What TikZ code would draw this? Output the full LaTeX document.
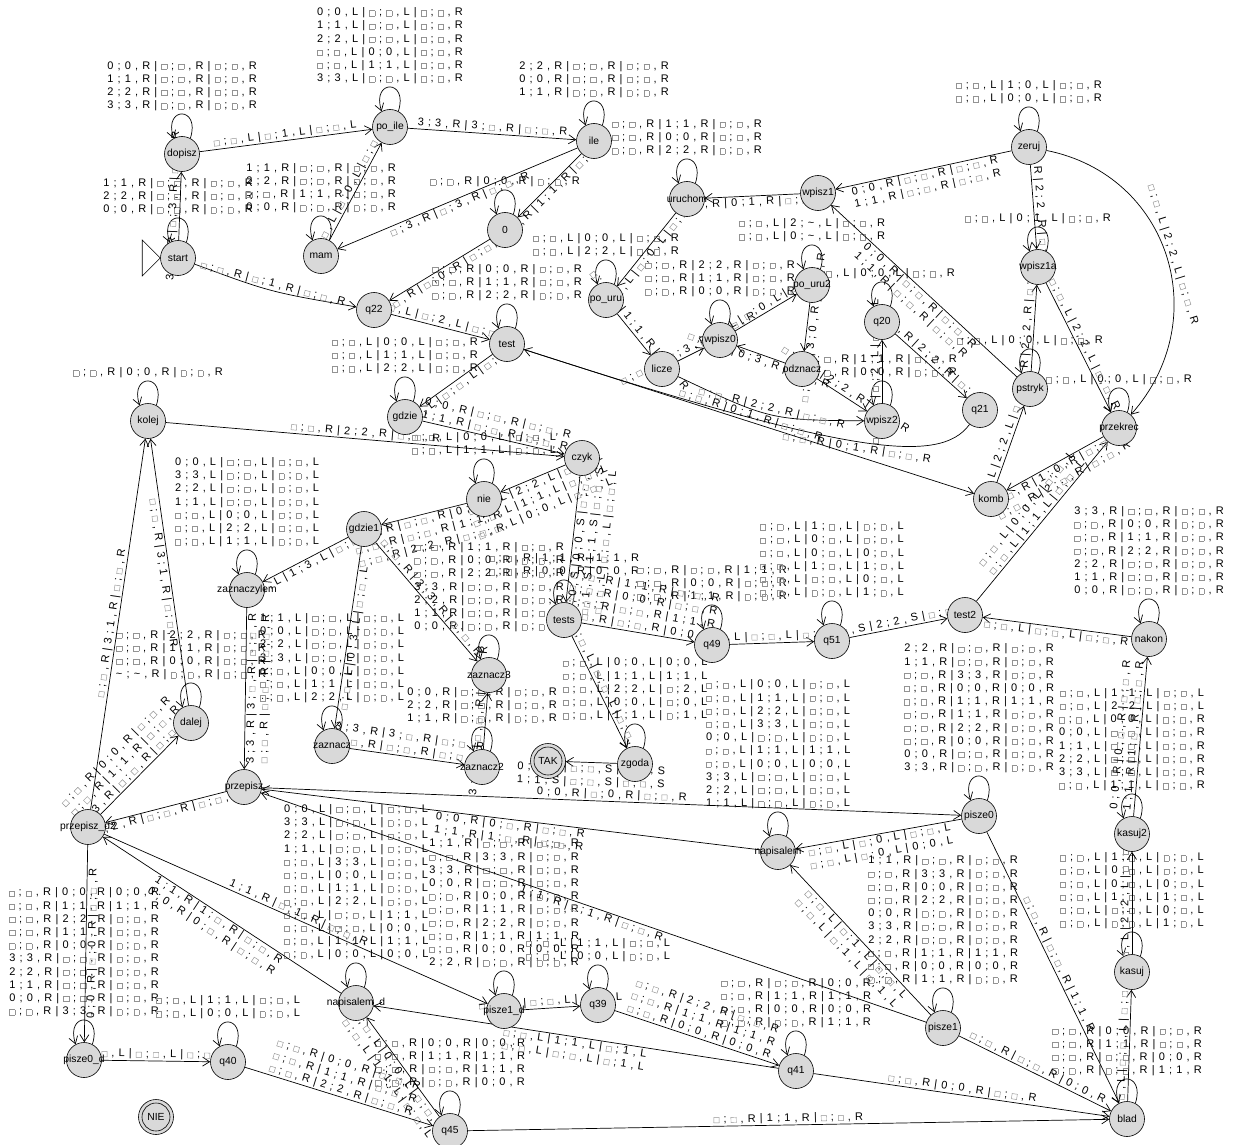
\documentclass[tikz,border=0pt]{standalone}
\usepackage{fontspec}
\setmainfont[WordSpace=1.36]{Liberation Sans}
\usepackage{newunicodechar}
\usetikzlibrary{arrows.meta,calc}
\pgfdeclarelayer{bg}
\pgfsetlayers{bg,main}
\newcommand\bx{\begingroup\color{gray!85}\fboxsep=0pt\fboxrule=0.45pt\fbox{\rule{0pt}{4.8pt}\rule{4.8pt}{0pt}}\endgroup}
\newunicodechar{□}{\bx}
\newcommand\T[9]{#1 ; #2 , #3 | #4 ; #5 , #6 | #7 ; #8 , #9}
\newcommand\tl{\textasciitilde}
\newcommand\nm[1]{\makebox[0pt][c]{#1}}
\newcommand\lblfont{\fontsize{11}{13.2}\selectfont}
\newcommand\selfloop[2]{%
 \draw[tr] (#1.62) .. controls +(72:34pt) and +(108:34pt) .. (#1.118);
 \node[lbl,anchor=south] at ([yshift=24pt]#1.north) {#2};}
\begin{document}
\begin{tikzpicture}[x=1pt,y=-1pt,
  stt/.style={circle,draw=black,line width=0.6pt,fill=gray!30,minimum size=35pt,inner sep=0pt,font=\fontsize{10.3}{12}\selectfont},
  tr/.style={draw=black,line width=0.7pt,-{Straight Barb[length=7pt,width=9pt]}},
  lbl/.style={font=\lblfont,inner sep=1pt,align=center,text=black},
  la/.style={lbl,pos=0.5,sloped,above},
  lb/.style={lbl,pos=0.5,sloped,below}]
\useasboundingbox (0,0) rectangle (1235,1145);
% states
\node[stt] (start) at (178,258) {\nm{start}};
\node[stt] (dopisz) at (182,154) {\nm{dopisz}};
\node[stt] (poile) at (390,127) {\nm{po\_ile}};
\node[stt] (ile) at (594,141) {\nm{ile}};
\node[stt] (mam) at (321,256) {\nm{mam}};
\node[stt] (n0) at (505,230) {\nm{0}};
\node[stt] (uruchom) at (687,199) {\nm{uruchom}};
\node[stt] (wpisz1) at (818,193) {\nm{wpisz1}};
\node[stt] (zeruj) at (1029,147) {\nm{zeruj}};
\node[stt] (wpisz1a) at (1038,267) {\nm{wpisz1a}};
\node[stt] (pouru) at (606,300) {\nm{po\_uru}};
\node[stt] (pouru2) at (812,285) {\nm{po\_uru2}};
\node[stt] (q22) at (374,310) {\nm{q22}};
\node[stt] (test) at (507,344) {\nm{test}};
\node[stt] (licze) at (662,369) {\nm{licze}};
\node[stt] (wpisz0) at (720,340) {\nm{wpisz0}};
\node[stt] (odznacz) at (802,369) {\nm{odznacz}};
\node[stt] (q20) at (882,322) {\nm{q20}};
\node[stt] (wpisz2) at (882,421) {\nm{wpisz2}};
\node[stt] (q21) at (980,410) {\nm{q21}};
\node[stt] (pstryk) at (1030,389) {\nm{pstryk}};
\node[stt] (przekrec) at (1119,428) {\nm{przekrec}};
\node[stt] (kolej) at (148,421) {\nm{kolej}};
\node[stt] (gdzie) at (405,417) {\nm{gdzie}};
\node[stt] (czyk) at (582,458) {\nm{czyk}};
\node[stt] (nie) at (484,499) {\nm{nie}};
\node[stt] (gdzie1) at (364,529) {\nm{gdzie1}};
\node[stt] (komb) at (991,499) {\nm{komb}};
\node[stt] (zaznaczylem) at (247,590) {\nm{zaznaczylem}};
\node[stt] (tests) at (564,620) {\nm{tests}};
\node[stt] (q49) at (712,645) {\nm{q49}};
\node[stt] (q51) at (832,641) {\nm{q51}};
\node[stt] (test2) at (965,615) {\nm{test2}};
\node[stt] (nakon) at (1149,639) {\nm{nakon}};
\node[stt] (zaznacz3) at (489,675) {\nm{zaznacz3}};
\node[stt] (dalej) at (191,723) {\nm{dalej}};
\node[stt] (zaznacz) at (332,746) {\nm{zaznacz}};
\node[stt] (zaznacz2) at (482,767) {\nm{zaznacz2}};
\node[stt] (TAK) at (548,761) {\nm{TAK}};
\node[stt] (zgoda) at (635,764) {\nm{zgoda}};
\node[stt] (przepisz) at (244,787) {\nm{przepisz}};
\node[stt] (pd2) at (88,827) {\nm{przepisz\_d2}};
\node[stt] (pisze0) at (979,816) {\nm{pisze0}};
\node[stt] (napisalem) at (778,852) {\nm{napisalem}};
\node[stt] (kasuj2) at (1132,834) {\nm{kasuj2}};
\node[stt] (kasuj) at (1132,972) {\nm{kasuj}};
\node[stt] (nd) at (356,1003) {\nm{napisalem\_d}};
\node[stt] (p1d) at (504,1011) {\nm{pisze1\_d}};
\node[stt] (q39) at (598,1005) {\nm{q39}};
\node[stt] (pisze1) at (943,1028) {\nm{pisze1}};
\node[stt] (q41) at (796,1071) {\nm{q41}};
\node[stt] (p0d) at (84,1060) {\nm{pisze0\_d}};
\node[stt] (q40) at (228,1062) {\nm{q40}};
\node[stt] (q45) at (450,1131) {\nm{q45}};
\node[stt] (blad) at (1127,1119) {\nm{blad}};
\node[stt] (NIE) at (156,1117) {\nm{NIE}};
\draw[line width=0.6pt] (TAK.center) circle[radius=14pt];
\draw[line width=0.6pt] (NIE.center) circle[radius=14pt];
\draw[line width=0.6pt,fill=white] (start.west) -- ++(-18pt,18pt) -- ++(0,-36pt) -- cycle;
\begin{pgfonlayer}{bg}
\fill[white] (0,0) rectangle (1235,1145);
% self loops
\selfloop{start}{\T11R□□R□□R\\\T22R□□R□□R\\\T00R□□R□□R}
\selfloop{dopisz}{\T00R□□R□□R\\\T11R□□R□□R\\\T22R□□R□□R\\\T33R□□R□□R}
\selfloop{poile}{\T00L□□L□□R\\\T11L□□L□□R\\\T22L□□L□□R\\\T□□L00L□□R\\\T□□L11L□□R\\\T33L□□L□□R}
\selfloop{ile}{\T22R□□R□□R\\\T00R□□R□□R\\\T11R□□R□□R}
\selfloop{mam}{\T11R□□R□□R\\\T22R□□R□□R\\\T□□R11R□□R\\\T00R□□R□□R}
\selfloop{n0}{\T□□R00R□□R}
\selfloop{uruchom}{\T□□R11R□□R\\\T□□R00R□□R\\\T□□R22R□□R}
\selfloop{zeruj}{\T□□L10L□□R\\\T□□L00L□□R}
\selfloop{wpisz1a}{\T□□L01L□□R}
\selfloop{pouru}{\T□□L00L□□R\\\T□□L22L□□R}
\selfloop{pouru2}{\T□□L2\tl L□□R\\\T□□L0\tl L□□R}
\selfloop{test}{\T□□R00R□□R\\\T□□R11R□□R\\\T□□R22R□□R}
\selfloop{wpisz0}{\T□□R22R□□R\\\T□□R11R□□R\\\T□□R00R□□R}
\selfloop{q20}{\T□□L00L□□R}
\selfloop{wpisz2}{\T□□R11R□□R\\\T□□R00R□□R}
\selfloop{pstryk}{\T□□L00L□□R}
\selfloop{przekrec}{\T□□L00L□□R}
\selfloop{kolej}{\T□□R00R□□R}
\selfloop{gdzie}{\T□□L00L□□R\\\T□□L11L□□R\\\T□□L22L□□R}
\selfloop{nie}{\T□□L00L□□L\\\T□□L11L□□L}
\selfloop{zaznaczylem}{\T00L□□L□□L\\\T33L□□L□□L\\\T22L□□L□□L\\\T11L□□L□□L\\\T□□L00L□□L\\\T□□L22L□□L\\\T□□L11L□□L}
\selfloop{tests}{\T□□R11R11R\\\T□□R00R00R}
\selfloop{q49}{\T□□R□□R11R\\\T□□R00R□□R\\\T□□R11R□□R}
\selfloop{q51}{\T□□L1□L□□L\\\T□□L0□L□□L\\\T□□L0□L0□L\\\T□□L1□L1□L\\\T□□L□□L0□L\\\T□□L□□L1□L}
\selfloop{nakon}{\T33R□□R□□R\\\T□□R00R□□R\\\T□□R11R□□R\\\T□□R22R□□R\\\T22R□□R□□R\\\T11R□□R□□R\\\T00R□□R□□R}
\selfloop{zaznacz3}{\T□□R11R□□R\\\T□□R00R□□R\\\T□□R22R□□R\\\T33R□□R□□R\\\T22R□□R□□R\\\T11R□□R□□R\\\T00R□□R□□R}
\selfloop{dalej}{\T□□R22R□□R\\\T□□R11R□□R\\\T□□R00R□□R\\\T\tl\tl R□□R□□R}
\selfloop{zaznacz}{\T11L□□L□□L\\\T00L□□L□□L\\\T22L□□L□□L\\\T33L□□L□□L\\\T□□L00L□□L\\\T□□L11L□□L\\\T□□L22L□□L}
\selfloop{zaznacz2}{\T00R□□R□□R\\\T22R□□R□□R\\\T11R□□R□□R}
\selfloop{zgoda}{\T□□L00L00L\\\T□□L11L11L\\\T□□L22L□2L\\\T□□L00L□0L\\\T□□L11L□1L}
\selfloop{pisze0}{\T22R□□R□□R\\\T11R□□R□□R\\\T□□R33R□□R\\\T□□R00R00R\\\T□□R11R11R\\\T□□R11R□□R\\\T□□R22R□□R\\\T□□R00R□□R\\\T00R□□R□□R\\\T33R□□R□□R}
\selfloop{napisalem}{\T□□L00L□□L\\\T□□L11L□□L\\\T□□L22L□□L\\\T□□L33L□□L\\\T00L□□L□□L\\\T□□L11L11L\\\T□□L00L00L\\\T33L□□L□□L\\\T22L□□L□□L\\\T11L□□L□□L}
\selfloop{kasuj2}{\T□□L11L□□L\\\T□□L22L□□L\\\T□□L00L□□R\\\T00L□□L□□R\\\T11L□□L□□R\\\T22L□□L□□R\\\T33L□□L□□R\\\T□□L11L□□R}
\selfloop{kasuj}{\T□□L1□L□□L\\\T□□L0□L□□L\\\T□□L0□L0□L\\\T□□L1□L1□L\\\T□□L□□L0□L\\\T□□L□□L1□L}
\selfloop{nd}{\T00L□□L□□L\\\T33L□□L□□L\\\T22L□□L□□L\\\T11L□□L□□L\\\T□□L33L□□L\\\T□□L00L□□L\\\T□□L11L□□L\\\T□□L22L□□L\\\T□□L□□L11L\\\T□□L□□L00L\\\T□□L11L11L\\\T□□L00L00L}
\selfloop{p1d}{\T11R□□R□□R\\\T□□R33R□□R\\\T33R□□R□□R\\\T00R□□R□□R\\\T□□R00R□□R\\\T□□R11R□□R\\\T□□R22R□□R\\\T□□R11R11R\\\T□□R00R00R\\\T22R□□R□□R}
\selfloop{q39}{\T□□L11L□□L\\\T□□L00L□□L}
\selfloop{pisze1}{\T11R□□R□□R\\\T□□R33R□□R\\\T□□R00R□□R\\\T□□R22R□□R\\\T00R□□R□□R\\\T33R□□R□□R\\\T22R□□R□□R\\\T□□R11R11R\\\T□□R00R00R\\\T□□R11R□□R}
\selfloop{q41}{\T□□R□□R00R\\\T□□R11R11R\\\T□□R00R00R\\\T□□R□□R11R}
\selfloop{p0d}{\T□□R00R00R\\\T□□R11R11R\\\T□□R22R□□R\\\T□□R11R□□R\\\T□□R00R□□R\\\T33R□□R□□R\\\T22R□□R□□R\\\T11R□□R□□R\\\T00R□□R□□R\\\T□□R33R□□R}
\selfloop{q40}{\T□□L11L□□L\\\T□□L00L□□L}
\selfloop{q45}{\T□□R00R00R\\\T□□R11R11R\\\T□□R□□R11R\\\T□□R□□R00R}
\selfloop{blad}{\T□□R00R□□R\\\T□□R11R□□R\\\T□□R□□R00R\\\T□□R□□R11R}
% transitions
\draw[tr] (start) -- (dopisz) node[la]{\T3□R□3R□□R};
\draw[tr] (dopisz) -- (poile) node[la]{\T□□L□1L□□L};
\draw[tr] (poile) -- (ile) node[la]{\T33R3□R□□R};
\draw[tr] (ile) -- (n0) node[lb]{\T□□R11R□□R};
\draw[tr] (ile) -- (mam) node[lb]{\T□3R□3R□□R};
\draw[tr] (mam) -- (poile) node[la]{\T□□L□0L□□R};
\draw[tr] (start) .. controls (270,292) .. (q22) node[la]{\T□□R□1R□□R};
\draw[tr] (n0) -- (q22) node[lb]{\T□□R□0R□□R};
\draw[tr] (q22) -- (test) node[la]{\T□□L□2L□□L};
\draw[tr] (test) -- (gdzie) node[lb]{\T□□L□□L□□L};
\draw[tr] (gdzie) -- (czyk) node[la]{\T00R□□R□□R\\\T11R□□R□□R};
\draw[tr] (kolej) -- (czyk) node[la]{\T□□R22R□□R};
\draw[tr] (czyk) -- (nie) node[lb]{\T□□L22L□□L\\\T□□L11L□□L\\\T□□L00L□□L};
\draw[tr] (nie) -- (gdzie1) node[lb]{\T□□R□□R00R\\\T□□R□□R11R\\\T□□R22R□□R};
\draw[tr] (czyk) -- (tests) node[lb]{\T□0S00S□□S\\\T□1S11S□□S\\\T□□L□□L□□L};
\draw[tr] (gdzie1) -- (zaznaczylem) node[lb]{\T□□L13L□□L};
\draw[tr] (gdzie1) -- (zaznacz) node[lb]{\T□□L03L□□L};
\draw[tr] (gdzie1) -- (zaznacz3) node[la]{\T□□R33R□□R};
\draw[tr] (zaznacz) -- (zaznacz2) node[la]{\T33R3□R□□R\\\T□□R□□R□□R};
\draw[tr] (zaznacz2) -- (zaznacz3) node[la]{\T33R□□R□□R};
\draw[tr] (zgoda) -- (TAK) node[lb]{\T00S□□S□□S\\\T11S□□S□□S};
\draw[tr] (tests) -- (zgoda) node[la]{\T□□L□□L□□L};
\draw[tr] (tests) -- (q49) node[la]{\T□□R11R□□R\\\T□□R00R□□R\\\T□□R□□R11R\\\T□□R□□R00R};
\draw[tr] (q49) -- (q51) node[la]{\T□□L□□L□□L};
\draw[tr] (q51) -- (test2) node[la]{\T□□S22S□□S};
\draw[tr] (nakon) -- (test2) node[lb]{\T□□L□□L□□R};
\draw[tr] (test2) -- (przekrec) node[la]{\T□□L00L□□L\\\T□□L11L□□L};
\draw[tr] (przekrec) -- (komb) node[lb]{\T□□R10R□□R\\\T□□R2□R□□R};
\draw[tr] (komb) -- (pstryk) node[la]{\T□□L22L□□L};
\draw[tr] (pstryk) -- (wpisz1a) node[la]{\T□□R22R□□R};
\draw[tr] (wpisz1a) -- (przekrec) node[la]{\T□□L22L□□R};
\draw[tr] (zeruj) -- (wpisz1a) node[la]{\T□□R22R□□R};
\draw[tr] (zeruj) .. controls (1170,175) and (1215,320) .. (przekrec) node[la]{\T□□L22L□□R};
\draw[tr] (zeruj) -- (wpisz1) node[lb]{\T00R□□R□□R\\\T11R□□R□□R};
\draw[tr] (wpisz1) -- (uruchom) node[lb]{\T□□R01R□□R};
\draw[tr] (uruchom) -- (pouru) node[lb]{\T□□L□0L□□L};
\draw[tr] (pstryk) -- (wpisz1) node[lb]{\T00R□□R□□R\\\T11R□□R□□R};
\draw[tr] (pouru) -- (licze) node[la]{\T□□R11R□□R};
\draw[tr] (licze) -- (wpisz0) node[la]{\T□□R□3R□□R};
\draw[tr] (odznacz) -- (wpisz0) node[lb]{\T□□R03R□□R};
\draw[tr] (wpisz0) -- (pouru2) node[la]{\T□□L□0L□□L};
\draw[tr] (pouru2) -- (odznacz) node[lb]{\T□□R30R□□R};
\draw[tr] (licze) .. controls (770,420) .. (wpisz2) node[la]{\T□□R22R□□R};
\draw[tr] (odznacz) -- (wpisz2) node[la]{\T□□R22R□□R};
\draw[tr] (wpisz2) -- (q20) node[la]{\T□□L□2L□□L};
\draw[tr] (q20) -- (q21) node[la]{\T□□R22R□□R};
\draw[tr] (q21) .. controls (940,465) and (850,455) .. (test) node[lb]{\T□□R01R□□R};
\draw[tr] (test) -- (komb) node[la]{\T□□R01R□□R};
\draw[tr] (zaznaczylem) -- (przepisz) node[lb]{\T33R3□R□□R\\\T□□R□□R□□R};
\draw[tr] (przepisz) -- (pd2) node[lb]{\T22R□□R□□R};
\draw[tr] (pd2) -- (dalej) node[la]{\T□□R00R□□R\\\T□□R11R□□R\\\T□3R□□R□□R};
\draw[tr] (pd2) -- (kolej) node[la]{\T□□R31R□□R};
\draw[tr] (dalej) -- (kolej) node[lb]{\T□□R31R□□R};
\draw[tr] (przepisz) -- (pisze0) node[la]{\T00R□0R□□R};
\draw[tr] (napisalem) -- (przepisz) node[lb]{\T00R0□R□□R\\\T11R1□R□□R};
\draw[tr] (pisze1) -- (przepisz) node[lb]{\T11R□1R□□R};
\draw[tr] (pisze0) -- (napisalem) node[lb]{\T□□L□0L□□L\\\T□□L□0L00L};
\draw[tr] (pisze1) -- (napisalem) node[lb]{\T□□L□1L□□L\\\T□□L□1L□1L};
\draw[tr] (pisze0) -- (blad) node[la]{\T□□R□□R11R};
\draw[tr] (pisze1) -- (blad) node[la]{\T□□R□□R00R};
\draw[tr] (q41) -- (blad) node[la]{\T□□R00R□□R};
\draw[tr] (q45) -- (blad) node[la]{\T□□R11R□□R};
\draw[tr] (blad) -- (kasuj) node[la]{\T□□L□□L□□L};
\draw[tr] (kasuj) -- (kasuj2) node[la]{\T□□L22L□□L};
\draw[tr] (kasuj2) -- (nakon) node[la]{\T00R0□R□□R\\\T11R1□R□□R};
\draw[tr] (q39) -- (q41) node[la]{\T□□R22R□□R\\\T□□R11R11R\\\T□□R00R00R};
\draw[tr] (q41) -- (nd) node[lb]{\T□□L11L□1L\\\T□□L□□L□1L};
\draw[tr] (p1d) -- (q39) node[la]{\T□□L□□L□□L};
\draw[tr] (pd2) -- (p1d) node[la]{\T11R□1R□□R};
\draw[tr] (nd) -- (pd2) node[lb]{\T11R1□R□□R\\\T00R0□R□□R};
\draw[tr] (q45) -- (nd) node[lb]{\T□□L00L□□L\\\T□□L11L□□L};
\draw[tr] (p0d) -- (q40) node[la]{\T□□L□□L□□L};
\draw[tr] (q40) -- (q45) node[la]{\T□□R00R□□R\\\T□□R11R□□R\\\T□□R22R□□R};
\draw[tr] (pd2) -- (p0d) node[lb]{\T00R□0R□□R};
\end{pgfonlayer}
\end{tikzpicture}
\end{document}
